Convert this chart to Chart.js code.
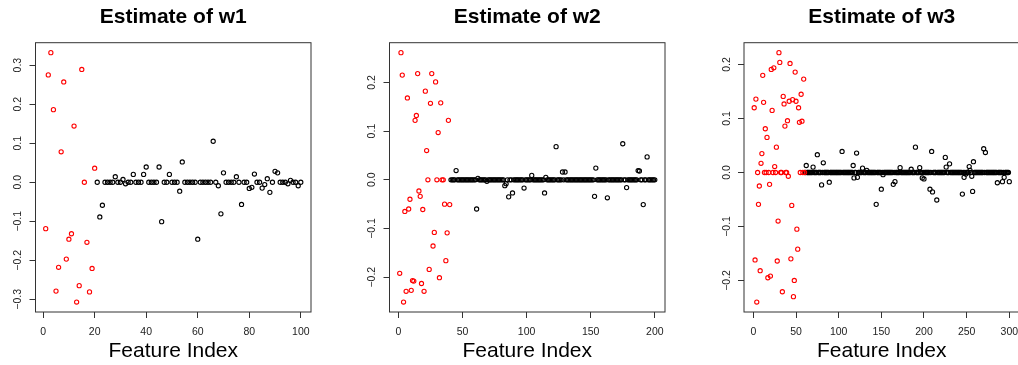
<!DOCTYPE html>
<html>
<head>
<meta charset="utf-8">
<title>Estimate of w1, w2, w3</title>
<script src="https://cdn.jsdelivr.net/npm/chart.js@4.4.1/dist/chart.umd.min.js"></script>
<style>
  html, body { margin: 0; padding: 0; background: #fff; overflow: hidden; }
  #wrap { position: relative; width: 1018px; height: 365px; overflow: hidden; }
  #wrap canvas { position: absolute; left: 0; top: 0; }
</style>
</head>
<body>
<div id="wrap">
  <canvas id="c1" width="1030" height="365"></canvas>
  <canvas id="c2" width="1030" height="365"></canvas>
  <canvas id="c3" width="1030" height="365"></canvas>
</div>
<script>
// ---------- Data ----------
const titles = ['Estimate of w1', 'Estimate of w2', 'Estimate of w3'];
const xTitle = 'Feature Index';

// how many leading features are drawn in red (the true support)
const redCounts = [20, 40, 60];

const xTicks1 = [0, 20, 40, 60, 80, 100];
const xTicks2 = [0, 50, 100, 150, 200];
const xTicks3 = [0, 50, 100, 150, 200, 250, 300];
const yTicks1 = [-0.3, -0.2, -0.1, 0, 0.1, 0.2, 0.3];
const yTicks2 = [-0.2, -0.1, 0, 0.1, 0.2];
const yTicks3 = [-0.2, -0.1, 0, 0.1, 0.2];

const w1Values = [
  -0.119, 0.275, 0.332, 0.186, -0.279, -0.218, 0.078, 0.257, -0.197, -0.146,
  -0.132, 0.144, -0.307, -0.265, 0.289, 0, -0.154, -0.281, -0.221, 0.036,
  0, -0.089, -0.059, 0, 0, 0, 0, 0.014, 0, 0,
  0.007, -0.004, 0, 0, 0.020, 0, 0, 0, 0.020, 0.039,
  0, 0, 0, 0, 0.039, -0.101, 0, 0, 0.020, 0,
  0, 0, -0.023, 0.052, 0, 0, 0, 0, 0, -0.146,
  0, 0, 0, 0, 0, 0.105, 0, -0.009, -0.081, 0.024,
  0, 0, 0, 0, 0.014, 0, -0.057, 0, 0, -0.016,
  -0.013, 0.021, 0, 0, -0.015, -0.006, 0.009, -0.026, 0, 0.028,
  0.024, 0, 0, 0, -0.004, 0.005, 0, 0, -0.009, 0
];

const w2Values = [
  -0.192, 0.261, 0.215, -0.251, -0.065, -0.229, 0.168, -0.060, -0.040, -0.227,
  -0.207, -0.208, 0.122, 0.132, 0.218, -0.023, -0.034, -0.213, -0.061, -0.229,
  0.182, 0.060, 0, -0.184, 0.157, 0.218, -0.136, -0.108, 0.201, 0,
  0.097, -0.201, 0.158, 0, 0, -0.050, -0.166, -0.109, 0.122, -0.051,
  0, 0, 0, 0, 0.019, 0, 0, 0, 0, 0,
  0, 0, 0, 0, 0, 0, 0, 0, 0, 0,
  -0.060, 0.003, 0, 0, 0, 0, 0, 0, -0.003, 0,
  0, 0, 0, 0, 0, 0, 0, 0, 0, 0,
  0, 0, -0.012, -0.008, 0, -0.035, 0, 0, -0.027, 0,
  0, 0, 0, 0, 0, 0, 0, -0.017, 0, 0,
  0, 0, 0, 0.009, 0, 0, 0, 0, 0, 0,
  0, 0, 0, -0.027, 0.005, 0, 0, 0, 0, 0,
  0, 0, 0.068, 0, 0, 0, 0, 0.016, 0, 0.016,
  0, 0, 0, 0, 0, 0, 0, 0, 0, 0,
  0, 0, 0, 0, 0, 0, 0, 0, 0, 0,
  0, 0, -0.034, 0.024, 0, 0, 0, 0, 0, 0,
  0, 0, -0.037, 0, 0, 0, 0, 0, 0, 0,
  0, 0, 0, 0, 0.074, 0, 0, -0.016, 0, 0,
  0, 0, 0, 0, 0, 0, 0.019, 0.018, 0, 0,
  -0.051, 0, 0, 0.047, 0, 0, 0, 0, 0, 0
];

const w3Values = [
  0.120, -0.162, 0.136, -0.240, 0, -0.059, -0.025, -0.182, 0.017, 0.035,
  0.180, 0.130, 0, 0.081, 0, 0.065, -0.195, 0, -0.022, -0.192,
  0.191, 0.115, 0, 0.194, 0.011, 0, 0.047, -0.164, -0.090, 0.222,
  0.204, 0, 0, -0.221, 0.141, 0.127, 0.086, 0, 0, 0.096,
  -0.007, 0.132, 0.202, -0.160, -0.061, 0.135, -0.230, -0.200, 0.186, 0.132,
  -0.105, -0.142, 0.120, 0.093, 0, 0.145, 0.095, 0, 0.173, 0,
  0, 0.013, 0, 0, 0, 0, 0, 0, 0, 0.010,
  0, 0, 0, 0, 0.033, 0, 0, 0, 0, -0.023,
  0, 0.018, 0, 0, 0, 0, 0, 0, -0.018, 0,
  0, 0, 0, 0, 0, 0, 0, 0, 0, 0,
  0, 0, 0, 0.039, 0, 0, 0, 0, 0, 0,
  0, 0, 0, 0, 0, 0, 0.013, -0.010, 0, 0,
  0.036, -0.009, 0, 0, 0, 0, 0, 0.008, 0, 0,
  0, 0, 0.004, 0, 0, 0, 0, 0, 0, 0,
  0, 0, 0, -0.059, 0, 0, 0, 0, 0, -0.031,
  0, -0.004, 0, 0, 0, 0, 0, 0, 0, 0,
  0, 0, 0, -0.022, 0, -0.017, 0, 0, 0, 0,
  0, 0.009, 0, 0, 0, 0, 0, 0, 0, 0,
  0, 0, 0, 0, 0.006, 0, 0, 0, 0, 0.047,
  0, 0, 0, 0, 0.009, 0, 0, -0.010, 0, -0.012,
  0, 0, 0, 0, 0, 0, -0.031, 0, 0.039, -0.036,
  0, 0, 0, 0, -0.051, 0, 0, 0, 0, 0,
  0, 0, 0, 0, 0.028, 0.010, 0, 0, 0, 0.016,
  0, 0, 0, 0, 0, 0, 0, 0, 0, 0,
  0, 0, 0, 0, -0.040, 0, -0.009, 0, -0.003, 0,
  0, 0, 0.011, 0.004, 0, -0.007, -0.035, 0.020, 0, 0,
  0, 0, 0, 0, 0, 0, 0, 0, 0, 0.044,
  0, 0.037, 0, 0, 0, 0, 0, 0, 0, 0,
  0, 0, 0, 0, 0, -0.019, 0, 0, 0, 0,
  0, -0.017, 0, -0.009, 0, 0, 0, 0, 0, -0.017
];

// ---------- Layout ----------
const CANVAS_W = 1030;   // a bit wider than the page: the third box runs past the edge
const CANVAS_H = 365;
const BOX_TOP = 42.7;
const BOX_BOTTOM = 312;
const Y_AXIS_W = 30;
const X_AXIS_H = CANVAS_H - BOX_BOTTOM;
const FONT = '"Liberation Sans", Arial, Helvetica, sans-serif';

const panels = [
  { id: 'c1', values: w1Values, xTicks: xTicks1, yTicks: yTicks1, boxLeft: 35.5, boxRight: 311 },
  { id: 'c2', values: w2Values, xTicks: xTicks2, yTicks: yTicks2, boxLeft: 389.5, boxRight: 665 },
  { id: 'c3', values: w3Values, xTicks: xTicks3, yTicks: yTicks3, boxLeft: 744, boxRight: 1019.5 }
];

// ---------- Helpers ----------
// R pads the data range by 4% on each side
function rRange(lo, hi) {
  const d = (hi - lo) * 0.04;
  return [lo - d, hi + d];
}
function fmtY(v) {
  return (v < 0 ? '\u2212' : '') + Math.abs(v).toFixed(1);
}

const boxPlugin = {
  id: 'plotBox',
  afterDraw(chart) {
    const a = chart.chartArea, ctx = chart.ctx;
    ctx.save();
    ctx.strokeStyle = '#333';
    ctx.lineWidth = 1;
    ctx.strokeRect(a.left, a.top, a.right - a.left, a.bottom - a.top);
    ctx.restore();
  }
};

// ---------- Charts ----------
panels.forEach((p, k) => {
  const n = p.values.length;
  const red = [], black = [];
  p.values.forEach((v, i) => {
    (i < redCounts[k] ? red : black).push({ x: i + 1, y: v });
  });
  const [xMin, xMax] = rRange(1, n);
  const [yMin, yMax] = rRange(Math.min(...p.values), Math.max(...p.values));

  const pointStyle = (color) => ({
    showLine: false,
    pointStyle: 'circle',
    pointRadius: 2.1,
    pointHoverRadius: 2.1,
    pointBorderWidth: 1.1,
    pointBackgroundColor: 'rgba(0,0,0,0)',
    pointBorderColor: color
  });

  new Chart(document.getElementById(p.id), {
    type: 'scatter',
    data: {
      datasets: [
        Object.assign({ label: 'support', data: red }, pointStyle('#ff0000')),
        Object.assign({ label: 'other', data: black }, pointStyle('#000000'))
      ]
    },
    options: {
      responsive: false,
      animation: false,
      events: [],
      layout: {
        padding: { left: p.boxLeft - Y_AXIS_W, right: CANVAS_W - p.boxRight, top: 0, bottom: 0 }
      },
      scales: {
        x: {
          type: 'linear',
          min: xMin,
          max: xMax,
          afterBuildTicks: (s) => { s.ticks = p.xTicks.map(v => ({ value: v })); },
          afterFit: (s) => { s.height = X_AXIS_H; },
          grid: { display: true, drawOnChartArea: false, drawTicks: true, tickLength: 6, color: '#333', lineWidth: 1 },
          border: { display: false },
          ticks: {
            autoSkip: false,
            maxRotation: 0,
            padding: 7.5,
            color: '#222',
            font: { family: FONT, size: 10.5 },
            callback: (v) => String(v)
          },
          title: {
            display: true,
            text: xTitle,
            color: '#000',
            font: { family: FONT, size: 21, lineHeight: 1.2 },
            padding: { top: 0, bottom: 0.7 }
          }
        },
        y: {
          type: 'linear',
          min: yMin,
          max: yMax,
          afterBuildTicks: (s) => { s.ticks = p.yTicks.map(v => ({ value: v })); },
          afterFit: (s) => { s.width = Y_AXIS_W; },
          grid: { display: true, drawOnChartArea: false, drawTicks: true, tickLength: 6, color: '#333', lineWidth: 1 },
          border: { display: false },
          ticks: {
            autoSkip: false,
            minRotation: 90,
            maxRotation: 90,
            crossAlign: 'center',
            padding: 1,
            color: '#222',
            font: { family: FONT, size: 10.5 },
            callback: (v) => fmtY(v)
          }
        }
      },
      plugins: {
        legend: { display: false },
        tooltip: { enabled: false },
        title: {
          display: true,
          text: titles[k],
          fullSize: false,
          color: '#000',
          font: { family: FONT, size: 21, weight: 'bold', lineHeight: 1.2 },
          padding: { top: 4.4, bottom: BOX_TOP - 4.4 - 25.2 }
        }
      }
    },
    plugins: [boxPlugin]
  });
});
</script>
</body>
</html>
